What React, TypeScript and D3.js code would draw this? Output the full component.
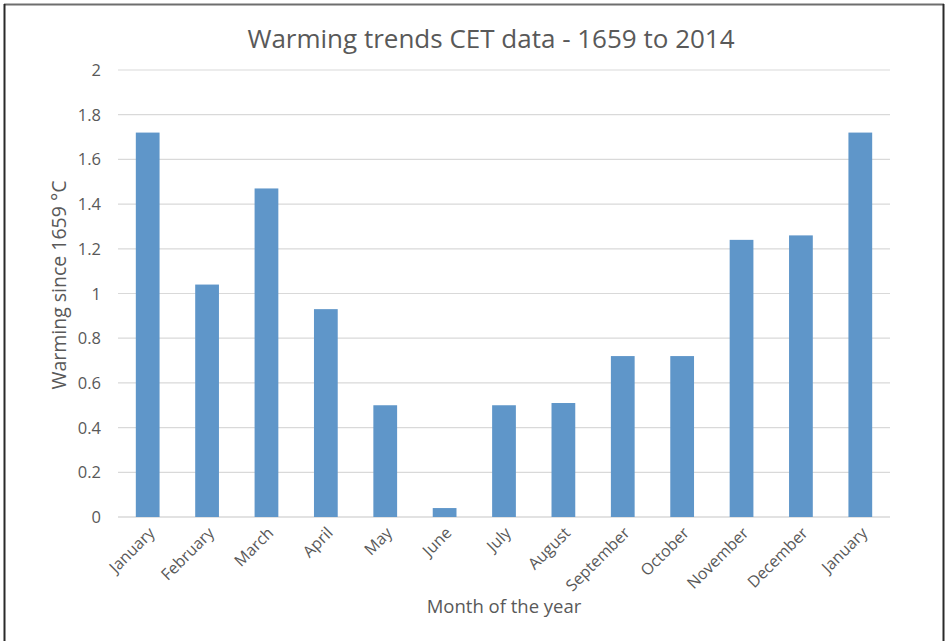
import React from "react";
import * as d3 from "d3";

const months = ["January","February","March","April","May","June","July","August","September","October","November","December","January"];
const warming = [1.72,1.04,1.47,0.93,0.5,0.04,0.5,0.51,0.72,0.72,1.24,1.26,1.72];
const yTicks = [0,0.2,0.4,0.6,0.8,1,1.2,1.4,1.6,1.8,2];
const yTickLabels = ["0","0.2","0.4","0.6","0.8","1","1.2","1.4","1.6","1.8","2"];

const W = 946, H = 641;
const left = 118, right = 890, top = 70, bottom = 517;
const font = "'Open Sans', 'Liberation Sans', sans-serif";
const textColor = "#595959";

export default function App() {
  const x = d3.scaleBand<number>().domain(d3.range(months.length)).range([left, right]).paddingInner(0.6).paddingOuter(0.3);
  const y = d3.scaleLinear().domain([0, 2]).range([bottom, top]);
  return (
    <svg width={W} height={H} style={{ position: "absolute", left: 0, top: 0, background: "#fff" }}>
      <rect x={0} y={0} width={W} height={H} fill="#fff" />
      <line x1={4} x2={944} y1={4.5} y2={4.5} stroke="#6e6e6e" strokeWidth={2} />
      <line x1={4.5} x2={4.5} y1={4} y2={H} stroke="#2a2a2a" strokeWidth={2} />
      <line x1={943.5} x2={943.5} y1={4} y2={H} stroke="#2a2a2a" strokeWidth={2} />
      <text x={491} y={48} textAnchor="middle" fontFamily={font} fontSize={26} fill={textColor}>Warming trends CET data - 1659 to 2014</text>
      {yTicks.map((t, i) => (
        <g key={i}>
          <line x1={left} x2={right} y1={y(t)} y2={y(t)} stroke="#d9d9d9" strokeWidth={t === 0 ? 1.5 : 1.2} />
          <text x={101} y={y(t) + 6} textAnchor="end" fontFamily={font} fontSize={16.5} fill={textColor}>{yTickLabels[i]}</text>
        </g>
      ))}
      {warming.map((v, i) => (
        <rect key={i} x={x(i)!} y={y(v)} width={x.bandwidth()} height={y(0) - y(v)} fill="#5f96c9" />
      ))}
      {months.map((m, i) => {
        const cx = x(i)! + x.bandwidth() / 2 + 8;
        const cy = 534;
        return (
          <text key={i} transform={`translate(${cx},${cy}) rotate(-45)`} textAnchor="end" fontFamily={font} fontSize={16} fill={textColor}>{m}</text>
        );
      })}
      <text transform={`translate(66,285) rotate(-90)`} textAnchor="middle" fontFamily={font} fontSize={19.5} fill={textColor}>Warming since 1659 °C</text>
      <text x={504} y={613} textAnchor="middle" fontFamily={font} fontSize={18.5} fill={textColor}>Month of the year</text>
    </svg>
  );
}
